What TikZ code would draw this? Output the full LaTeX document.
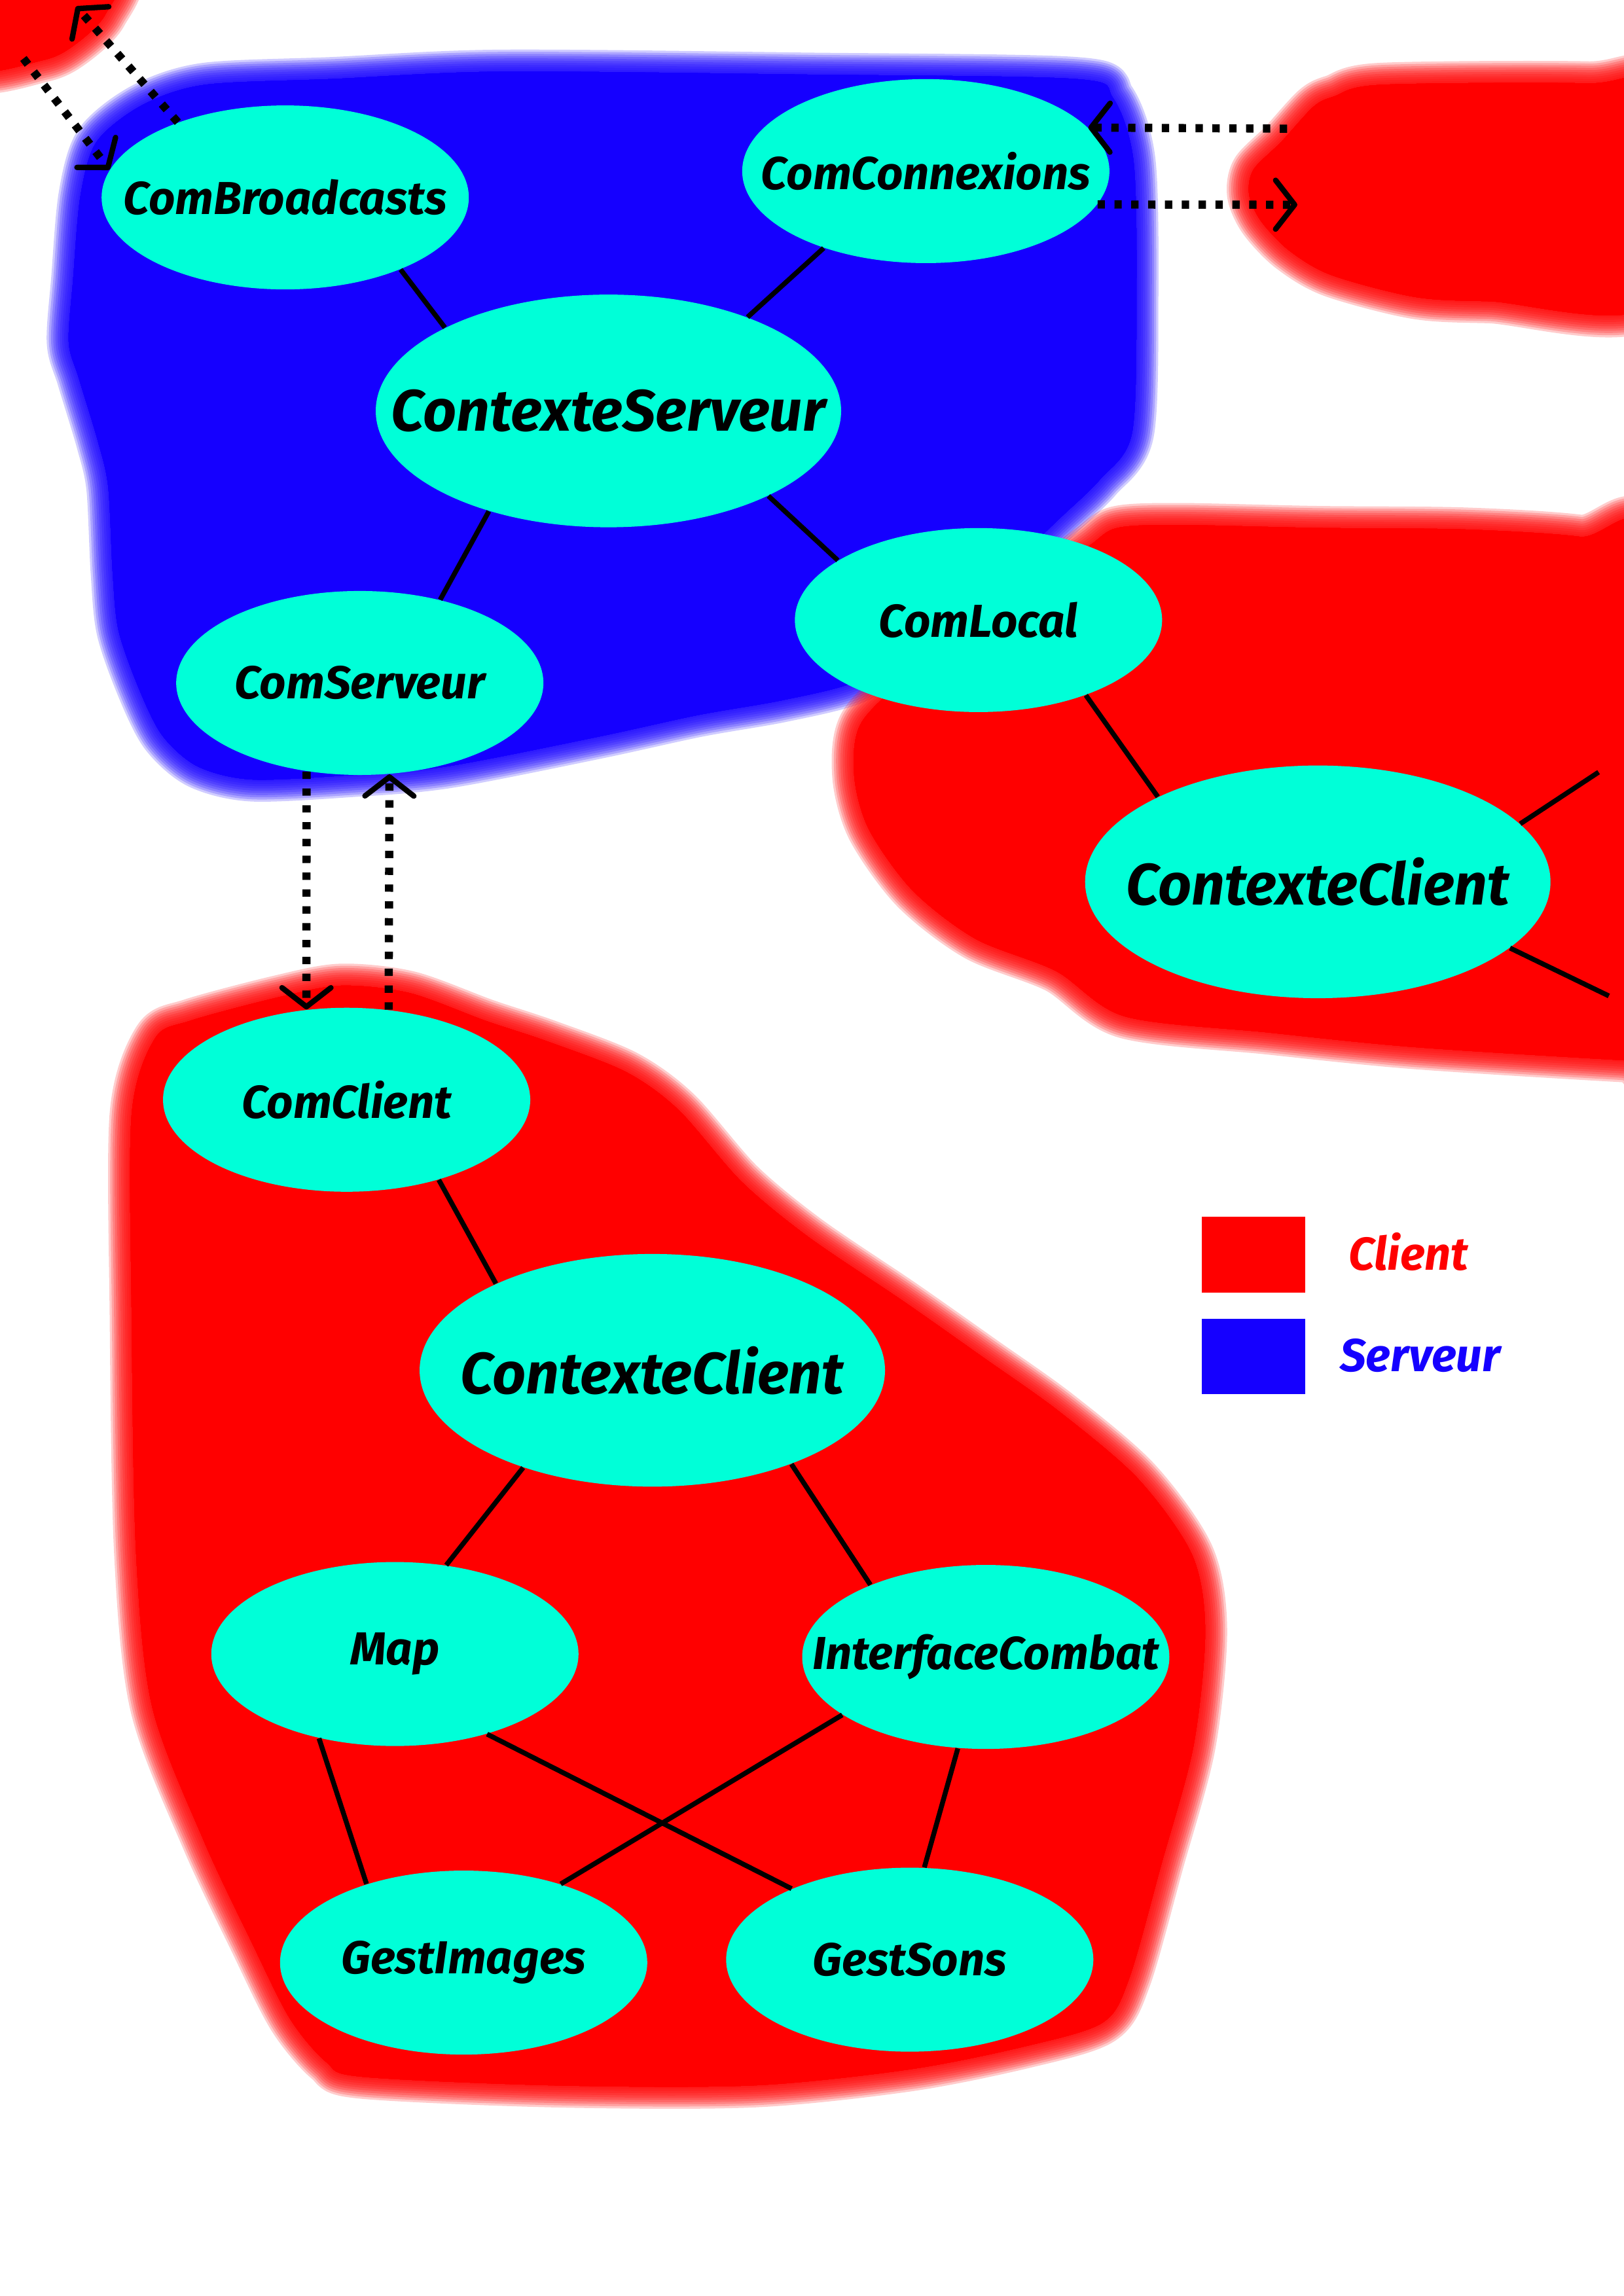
\documentclass[tikz,border=0pt]{standalone}
\usepackage{fontspec}
\setmainfont{Fira Sans}
\usetikzlibrary{shapes.geometric,arrows.meta}
\definecolor{turquoise}{RGB}{0,255,216}
\definecolor{rouge}{RGB}{255,0,0}
\definecolor{bleu}{RGB}{21,0,255}
\newcommand{\petit}{\fontsize{17pt}{20pt}\selectfont\bfseries\itshape}
\newcommand{\grand}{\fontsize{21.5pt}{25pt}\selectfont\bfseries\itshape}

\begin{document}
\begin{tikzpicture}[x=0.18919mm, y=-0.18919mm,
    module/.style={ellipse, fill=turquoise, inner sep=0pt, minimum width=47.5mm, minimum height=23.8mm, font=\petit},
    contexte/.style={module, minimum width=60.2mm, minimum height=30.1mm, font=\grand},
    lien/.style={line width=1.8pt},
    flux/.style={line width=3pt, dash pattern=on 2.7pt off 3.5pt, -{Straight Barb[length=7pt, width=18pt, line width=2pt, round]}},
    zone/.style={fill=#1, draw=#1, draw opacity=.2, line join=round}]

    \useasboundingbox (0,0) rectangle (1110,1570);

    % zones floues
    \foreach \w in {3,6,...,30}
        \path[zone=rouge, line width=\w*0.54pt] plot[smooth cycle] coordinates {(-20,-20) (78,-20) (72,10) (52,30) (30,41) (-20,46)};
    \foreach \w in {3,6,...,30}
        \path[zone=bleu, line width=\w*0.54pt] plot[smooth cycle] coordinates {(55,134) (66,97) (97,72) (140,58) (228,54) (342,49) (550,51) (735,54) (761,67) (775,110) (777,200) (774,296) (752,328) (724,355) (674,402) (614,447) (583,467) (534,479) (477,489) (408,504) (306,524) (240,530) (172,533) (135,524) (111,503) (95,471) (81,431) (77,391) (74,333) (67,302) (54,259) (47,234) (50,191)};
    \foreach \w in {3,6,...,30}
        \path[zone=rouge, line width=\w*0.54pt] plot[smooth cycle] coordinates {(912,66) (944,58) (1085,57) (1130,63) (1130,207) (1018,206) (967,203) (910,188) (881,171) (862,151) (854,133) (857,116) (876,97) (898,73)};
    \foreach \w in {3,6,...,30}
        \path[zone=rouge, line width=\w*0.54pt] plot[smooth cycle] coordinates {(745,373) (764,361) (806,359) (900,361) (1000,362) (1080,367) (1130,379) (1130,725) (1110,725) (967,716) (867,706) (769,695) (722,664) (667,642) (624,609) (594,567) (584,530) (589,494) (627,458) (697,409)};
    \foreach \w in {3,6,...,30}
        \path[zone=rouge, line width=\w*0.54pt] plot[smooth cycle] coordinates {(106,710) (130,698) (190,682) (233,674) (280,679) (332,698) (374,712) (428,733) (464,759) (507,808) (553,846) (618,890) (672,928) (724,965) (778,1011) (815,1063) (824,1115) (816,1194) (794,1275) (772,1353) (754,1383) (702,1399) (622,1415) (515,1426) (380,1426) (247,1420) (223,1410) (198,1380) (172,1328) (139,1258) (104,1167) (93,1061) (90,898) (90,762)};

    % modules
    \node[module] (comBroadcasts) at (195,135) {\makebox[0pt]{ComBroadcasts}};
    \node[module] (comConnexions) at (633,117) {\makebox[0pt]{ComConnexions}};
    \node[contexte] (contexteServeur) at (416,281) {\makebox[0pt]{ContexteServeur}};
    \node[module] (comServeur) at (246,467) {\makebox[0pt]{ComServeur}};
    \node[module] (comLocal) at (669,424) {\makebox[0pt]{ComLocal}};
    \node[contexte] (contexteClientA) at (901,603) {\makebox[0pt]{ContexteClient}};
    \node[module] (comClient) at (237,752) {\makebox[0pt]{ComClient}};
    \node[contexte] (contexteClientB) at (446,937) {\makebox[0pt]{ContexteClient}};
    \node[module] (map) at (270,1131) {\makebox[0pt]{Map}};
    \node[module] (interfaceCombat) at (674,1133) {\makebox[0pt]{InterfaceCombat}};
    \node[module] (gestImages) at (317,1342) {\makebox[0pt]{GestImages}};
    \node[module] (gestSons) at (622,1340) {\makebox[0pt]{GestSons}};

    \coordinate (bcA) at (52,4.5);
    \coordinate (bcB) at (16,40);
    \coordinate (cxA) at (880,88);
    \coordinate (cxB) at (887,140);
    \coordinate (clA) at (1093,528);
    \coordinate (clB) at (1100,681);

    % liens
    \foreach \a/\b in {comBroadcasts.-32/contexteServeur.153, comConnexions.217/contexteServeur.34, contexteServeur.220/comServeur.46, contexteServeur.-28/comLocal.157, comLocal.-35/contexteClientA.152, contexteClientA.16/clA, contexteClientA.-19/clB, comClient.-41/contexteClientB.151, contexteClientB.217/map.60, contexteClientB.-34/interfaceCombat.148, map.228/gestImages.141, map.-41/gestSons.149, interfaceCombat.202/gestImages.39, interfaceCombat.-107/gestSons.81}
        {\draw[lien] (\a) -- (\b);}

    % echanges
    \draw[flux] (comBroadcasts.145) -- (bcA);
    \draw[flux] (bcB) -- (comBroadcasts.171);
    \draw[flux] (cxA) -- (comConnexions.15);
    \draw[flux] (comConnexions.-11) -- (cxB);
    \draw[flux] (comServeur.-121) -- (comClient.114);
    \draw[flux] (comClient.65) -- (comServeur.-72);

    % legende
    \node[fill=rouge, inner sep=0pt, minimum width=13.4mm, minimum height=9.8mm] (carreClient) at (857,858) {};
    \node[fill=bleu, inner sep=0pt, minimum width=13.4mm, minimum height=9.8mm] (carreServeur) at (857,927.5) {};
    \node[text=rouge, font=\petit] (legClient) at (963,856) {Client};
    \node[text=bleu, font=\petit] (legServeur) at (971,927) {Serveur};
\end{tikzpicture}
\end{document}
